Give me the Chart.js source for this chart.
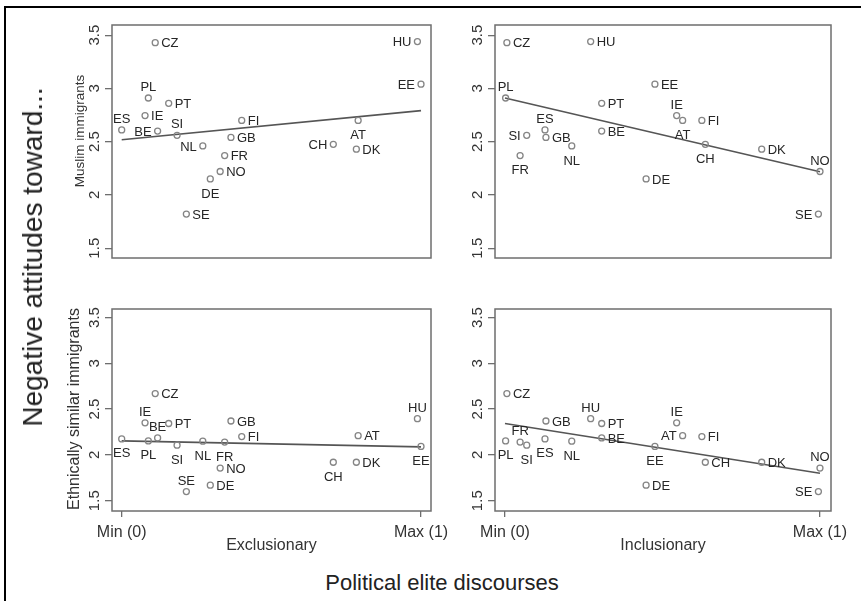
<!DOCTYPE html>
<html><head><meta charset="utf-8">
<script src="https://cdn.jsdelivr.net/npm/chart.js@4.4.1/dist/chart.umd.min.js"></script>
<style>
html,body{margin:0;padding:0;background:#fff;width:861px;height:601px;overflow:hidden;position:relative;font-family:'Liberation Sans',Arial,sans-serif;}
.frame{position:absolute;left:4px;top:6px;width:900px;height:700px;border-top:2px solid #000;border-left:2px solid #000;}
canvas{position:absolute;}
.title{position:absolute;color:#222;white-space:nowrap;line-height:1;}
</style></head><body>
<div class="frame"></div>
<canvas id="c1"></canvas><canvas id="c2"></canvas><canvas id="c3"></canvas><canvas id="c4"></canvas>
<div class="title" style="left:33px;top:257px;font-size:28px;transform:translate(-50%,-50%) rotate(-90deg);">Negative attitudes toward...</div>
<div class="title" style="left:442px;top:572px;font-size:22px;transform:translateX(-50%);">Political elite discourses</div>
<script>
// ---- data ----
const countries = ['AT','BE','CH','CZ','DE','DK','EE','ES','FI','FR','GB','HU','IE','NL','NO','PL','PT','SE','SI'];
const exclusionary = [0.790,0.120,0.707,0.112,0.296,0.784,1.000,0.000,0.401,0.344,0.365,0.988,0.078,0.271,0.329,0.089,0.157,0.216,0.185];
const inclusionary = [0.564,0.307,0.636,0.006,0.448,0.815,0.476,0.127,0.625,0.048,0.130,0.272,0.545,0.212,1.000,0.002,0.307,0.995,0.069];
const muslimAttitudes = [2.70,2.60,2.475,3.43,2.15,2.43,3.04,2.61,2.70,2.37,2.54,3.44,2.745,2.46,2.22,2.91,2.86,1.82,2.56];
const similarAttitudes = [2.21,2.185,1.92,2.67,1.67,1.92,2.093,2.175,2.20,2.14,2.37,2.396,2.35,2.15,1.856,2.153,2.343,1.60,2.106];
const fitExclMuslim = [2.518, 2.792];
const fitInclMuslim = [2.911, 2.217];
const fitExclSimilar = [2.153, 2.088];
const fitInclSimilar = [2.343, 1.799];
const fitX = [0, 1];
const yTickValues = [1.5, 2, 2.5, 3, 3.5];
const yTickLabels = ['1.5', '2', '2.5', '3', '3.5'];
const xTickValues = [0, 1];
const xTickLabels = ['Min (0)', 'Max (1)'];

// label placement (r=right, l=left, t=above, b=below)
const labelsTL = {AT:'b',BE:'l',CH:'l',CZ:'r',DE:'b',DK:'r',EE:'l',ES:'t',FI:'r',FR:'r',GB:'r',HU:'l',IE:'r',NL:'l',NO:'r',PL:'t',PT:'r',SE:'r',SI:'t'};
const labelsTR = {AT:'b',BE:'r',CH:'b',CZ:'r',DE:'r',DK:'r',EE:'r',ES:'t',FI:'r',FR:'b',GB:'r',HU:'r',IE:'t',NL:'b',NO:'t',PL:'t',PT:'r',SE:'l',SI:'l'};
const labelsBL = {AT:'r',BE:'t',CH:'b',CZ:'r',DE:'r',DK:'r',EE:'b',ES:'b',FI:'r',FR:'b',GB:'r',HU:'t',IE:'t',NL:'b',NO:'r',PL:'b',PT:'r',SE:'t',SI:'b'};
const labelsBR = {AT:'l',BE:'r',CH:'r',CZ:'r',DE:'r',DK:'r',EE:'b',ES:'b',FI:'r',FR:'t',GB:'r',HU:'t',IE:'t',NL:'b',NO:'t',PL:'b',PT:'r',SE:'l',SI:'b'};

const FONT = '"Liberation Sans", Arial, sans-serif';

const decor = {
  id: 'decor',
  afterDatasetsDraw(chart, args, o) {
    const ctx = chart.ctx, a = chart.chartArea;
    ctx.save();
    ctx.strokeStyle = '#6e6e6e'; ctx.lineWidth = 1.5;
    ctx.strokeRect(a.left, a.top, a.right - a.left, a.bottom - a.top);
    ctx.font = '13px ' + FONT; ctx.fillStyle = '#262626';
    chart.getDatasetMeta(0).data.forEach((pt, i) => {
      const name = countries[i], pos = o.labels[name];
      if (pos === 'r') { ctx.textAlign = 'left'; ctx.textBaseline = 'middle'; ctx.fillText(name, pt.x + 6, pt.y + 1); }
      else if (pos === 'l') { ctx.textAlign = 'right'; ctx.textBaseline = 'middle'; ctx.fillText(name, pt.x - 6, pt.y + 1); }
      else if (pos === 't') { ctx.textAlign = 'center'; ctx.textBaseline = 'middle'; ctx.fillText(name, pt.x, pt.y - 10.5); }
      else { ctx.textAlign = 'center'; ctx.textBaseline = 'middle'; ctx.fillText(name, pt.x, pt.y + 15); }
    });
    ctx.restore();
  },
  afterDraw(chart, args, o) {
    const ctx = chart.ctx, a = chart.chartArea, xs = chart.scales.x, ys = chart.scales.y;
    ctx.save();
    ctx.fillStyle = '#333';
    ctx.font = '15px ' + FONT;
    ys.ticks.forEach((t) => {
      const k = yTickValues.indexOf(t.value);
      const py = ys.getPixelForValue(t.value);
      ctx.save(); ctx.translate(a.left - 17, py); ctx.rotate(-Math.PI / 2);
      ctx.textAlign = 'center'; ctx.textBaseline = 'middle';
      ctx.fillText(yTickLabels[k], 0, 0); ctx.restore();
    });
    if (o.xTicks) {
      ctx.font = '16px ' + FONT; ctx.textAlign = 'center'; ctx.textBaseline = 'alphabetic';
      xs.ticks.forEach((t) => {
        const k = xTickValues.indexOf(t.value);
        ctx.fillText(xTickLabels[k], xs.getPixelForValue(t.value), a.bottom + 25.5);
      });
    }
    if (o.xTitle) {
      ctx.font = '16px ' + FONT; ctx.textAlign = 'center'; ctx.textBaseline = 'alphabetic';
      ctx.fillText(o.xTitle, (a.left + a.right) / 2, a.bottom + 38.5);
    }
    if (o.yTitle) {
      ctx.font = o.yTitleSize + 'px ' + FONT;
      ctx.save(); ctx.translate(a.left + o.yTitlePos[0], a.top + o.yTitlePos[1]); ctx.rotate(-Math.PI / 2);
      ctx.textAlign = 'center'; ctx.textBaseline = 'middle';
      ctx.fillText(o.yTitle, 0, 0); ctx.restore();
    }
    ctx.restore();
  }
};

const panels = [
  {id:'c1', box:[112,25,431,270], xs:exclusionary, ys:muslimAttitudes, fit:fitExclMuslim, xr:[-0.0324,1.0334], yr:[1.408,3.5955], labels:labelsTL, yTitle:'Muslim immigrants', yTitleSize:13.5, yTitlePos:[-32,106], xTitle:null, bottom:false, padL:75},
  {id:'c2', box:[495,25,831,270], xs:inclusionary, ys:muslimAttitudes, fit:fitInclMuslim, xr:[-0.0317,1.035], yr:[1.408,3.5955], labels:labelsTR, yTitle:null, xTitle:null, bottom:false, padL:45},
  {id:'c3', box:[112,309,431,511], xs:exclusionary, ys:similarAttitudes, fit:fitExclSimilar, xr:[-0.0324,1.0334], yr:[1.3876,3.593], labels:labelsBL, yTitle:'Ethnically similar immigrants', yTitleSize:16, yTitlePos:[-37,100], xTitle:'Exclusionary', bottom:true, padL:75},
  {id:'c4', box:[495,309,831,511], xs:inclusionary, ys:similarAttitudes, fit:fitInclSimilar, xr:[-0.0317,1.035], yr:[1.3876,3.593], labels:labelsBR, yTitle:null, xTitle:'Inclusionary', bottom:true, padL:45}
];

panels.forEach(p => {
  const [L, T, R, B] = p.box;
  const padT = 12, padR = 28, padB = p.bottom ? 55 : 12;
  const cv = document.getElementById(p.id);
  const w = (R - L) + p.padL + padR, h = (B - T) + padT + padB;
  cv.width = w; cv.height = h;
  cv.style.width = w + 'px'; cv.style.height = h + 'px';
  cv.style.left = (L - p.padL) + 'px'; cv.style.top = (T - padT) + 'px';
  new Chart(cv, {
    type: 'scatter',
    data: {
      datasets: [
        {data: countries.map((c, i) => ({x: p.xs[i], y: p.ys[i]})), pointRadius: 3, pointHoverRadius: 3,
         pointBorderWidth: 1.3, borderColor: '#858585', backgroundColor: 'rgba(0,0,0,0)', pointStyle: 'circle'},
        {data: fitX.map((x, i) => ({x: x, y: p.fit[i]})), showLine: true, pointRadius: 0, borderColor: '#555',
         borderWidth: 1.6, backgroundColor: 'rgba(0,0,0,0)'}
      ]
    },
    options: {
      responsive: false, animation: false, events: [],
      layout: {padding: {top: padT, right: padR, left: 0, bottom: p.bottom ? 0 : padB}},
      plugins: {legend: {display: false}, tooltip: {enabled: false},
        decor: {labels: p.labels, yTitle: p.yTitle, yTitleSize: p.yTitleSize, yTitlePos: p.yTitlePos, xTitle: p.xTitle, xTicks: p.bottom}},
      scales: {
        x: {type: 'linear', min: p.xr[0], max: p.xr[1], display: p.bottom,
            afterBuildTicks: s => { s.ticks = xTickValues.map(v => ({value: v})); },
            afterFit: s => { s.height = padB; },
            ticks: {display: false},
            border: {display: false},
            grid: {drawOnChartArea: false, drawTicks: true, tickLength: 6, color: '#6e6e6e', lineWidth: 1.3}},
        y: {type: 'linear', min: p.yr[0], max: p.yr[1],
            afterBuildTicks: s => { s.ticks = yTickValues.map(v => ({value: v})); },
            afterFit: s => { s.width = p.padL; },
            ticks: {display: false},
            border: {display: false},
            grid: {drawOnChartArea: false, drawTicks: true, tickLength: 7, color: '#6e6e6e', lineWidth: 1.3}}
      }
    },
    plugins: [decor]
  });
});
</script>
</body></html>
